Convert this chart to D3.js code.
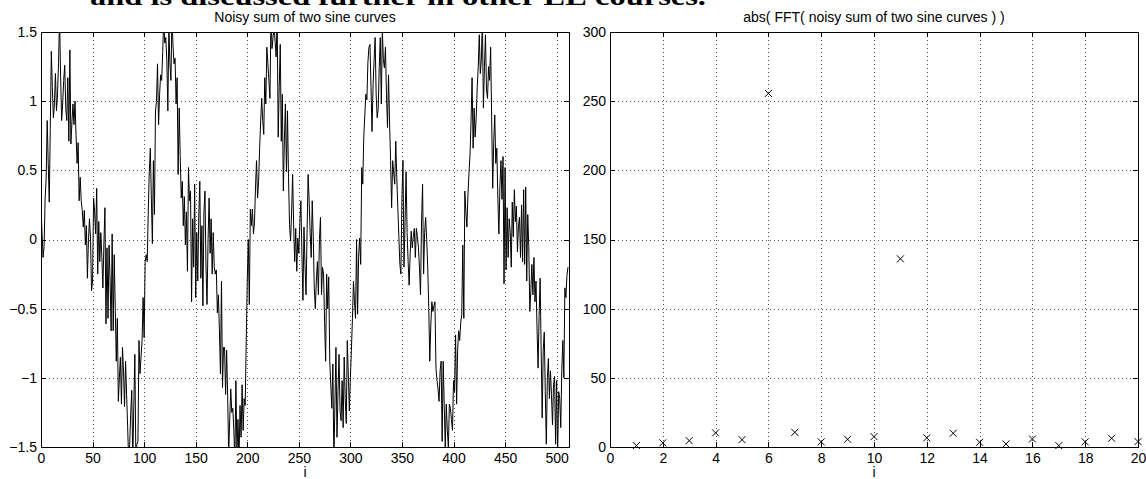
<!DOCTYPE html>
<html>
<head>
<meta charset="utf-8">
<script src="https://cdn.jsdelivr.net/npm/d3@7/dist/d3.min.js"></script>
<style>
  body { margin: 0; background: #fff; }
  svg { display: block; }
  .tick text { font-family: "Liberation Sans", Arial, sans-serif; font-size: 14px; fill: #000; }
  .lbl { font-family: "Liberation Sans", Arial, sans-serif; font-size: 14px; fill: #000; }
</style>
</head>
<body>
<svg id="chart" width="1146" height="479"></svg>
<script>
// noisy signal, one value per sample i = 0..511
const noisySignal = [
  0.22, 0.05, -0.13, -0.05, 0.30, 0.44, 0.86, 0.55, 0.27, 0.80,
  1.36, 1.10, 0.88, 0.98, 1.20, 0.93, 1.05, 1.27, 1.62, 1.18,
  0.86, 0.98, 1.15, 1.26, 0.95, 0.86, 1.17, 0.71, 1.37, 0.69,
  0.85, 0.98, 0.83, 1.00, 0.75, 0.55, 0.70, 0.28, 0.45, 0.28,
  0.21, 0.09, 0.21, -0.04, 0.10, -0.28, -0.01, 0.15, 0.01, -0.37,
  -0.30, 0.30, 0.20, 0.04, 0.37, -0.25, 0.13, -0.16, 0.05, -0.13,
  -0.35, -0.03, 0.23, -0.61, -0.06, -0.57, -0.04, -0.30, -0.66, 0.04,
  -0.66, -0.11, -0.50, -0.88, -0.57, -1.17, -1.00, -0.85, -1.19, -0.78,
  -0.95, -1.21, -0.88, -1.12, -1.35, -1.60, -1.48, -1.25, -1.09, -1.60,
  -1.20, -0.83, -1.60, -1.48, -1.46, -0.73, -0.97, -0.85, -0.73, -0.42,
  -0.71, -0.16,
  -0.11, -0.16, 0.20, 0.49, 0.66, 0.30, -0.03, 0.57, 0.18, 0.93,
  1.00, 1.27, 0.83, 1.05, 1.19, 1.15, 1.35, 1.60, 1.42, 1.46,
  1.30, 0.93, 1.53, 1.28, 1.15, 1.62, 1.40, 1.27, 1.31, 0.98,
  1.17, 0.47, 0.95, 0.60, 0.30, 0.42, 0.10, 0.31, -0.04, 0.20,
  -0.23, 0.52, 0.28, 0.35, -0.45, 0.15, -0.20, 0.40, -0.42, 0.05,
  -0.30, 0.17, 0.42, -0.28, 0.10, -0.48, 0.20, 0.35, -0.20, -0.47,
  0.00, 0.30, -0.10, 0.15, -0.25, 0.05, -0.20, -0.25, -0.22, -0.53,
  -0.40, -0.65, -0.97, -0.30, -1.07, -0.78, -0.78, -1.12, -0.80, -1.13,
  -1.55, -1.30, -1.08, -1.25, -1.22, -1.38, -1.60, -1.02, -1.55, -1.30,
  -1.60, -1.20, -1.43, -1.05, -1.38, -1.15, -1.20, -0.74, -0.30, 0.00,
  -0.47, 0.22, 0.10,
  0.22, 0.04, 0.12, 0.38, 0.57, 0.30, 0.42, 0.66, 0.85, 1.02,
  0.86, 0.76, 1.17, 0.98, 1.39, 1.27, 1.15, 1.02, 1.62, 1.38,
  1.46, 1.55, 1.43, 1.32, 1.60, 0.74, 1.10, 1.41, 0.71, 1.05,
  0.35, 0.72, 0.98, 0.49, 0.93, 0.45, 0.11, -0.01, 0.20, 0.47,
  0.10, -0.16, 0.08, -0.23, 0.01, -0.10, 0.12, 0.28, -0.10, -0.44,
  0.09, -0.18, -0.40, 0.05, 0.47, 0.28, 0.05, -0.13, 0.28, 0.02,
  -0.35, -0.50, -0.30, -0.16, -0.40, 0.00, 0.16, -0.40, -0.20, -0.25,
  -0.60, -0.88, -0.25, -0.50, -0.27, -0.88, -1.05, -1.22, -0.90, -1.60,
  -1.20, -0.78, -1.43, -1.10, -0.83, -1.24, -1.31, -1.02, -1.36, -0.85,
  -1.15, -1.33, -0.73, -0.98, -1.24, -1.00, -0.80, -0.57, -0.30, -0.45,
  -0.57, 0.00,
  -0.54, -0.12, 0.01, -0.18, 0.52, 0.40, 0.74, 0.90, 1.05, 1.01,
  1.28, 1.39, 1.41, 1.10, 0.78, 1.12, 1.30, 1.46, 1.05, 0.88,
  0.95, 1.25, 1.46, 0.98, 1.51, 1.30, 1.24, 1.39, 1.05, 0.81,
  1.19, 0.85, 0.57, 0.23, 0.57, 0.48, 0.40, 0.71, 0.45, 0.23,
  0.02, -0.18, -0.25, 0.30, 0.57, -0.20, 0.12, 0.49, 0.05, -0.16,
  -0.33, -0.10, 0.06, -0.06, 0.02, 0.08, -0.13, 0.08, 0.02, -0.06,
  -0.20, -0.40, 0.12, 0.40, -0.25, 0.05, 0.16, 0.00, -0.20, -0.49,
  -0.88, -0.62, -0.45, -0.52, -0.48, -0.45, -0.93, -1.02, -1.08, -1.17,
  -0.95, -0.88, -1.46, -0.88, -1.20, -1.50, -1.19, -1.38, -1.50, -1.19,
  -1.22, -1.30, -1.38, -1.02, -1.10, -0.69, -1.19, -0.80, -0.66, -0.73,
  -0.60, -0.54, -0.04,
  -0.57, 0.35, 0.20, 0.09, 0.32, 0.48, 0.61, 0.85, 1.17, 0.66,
  0.95, 0.74, 0.88, 1.10, 1.25, 1.48, 1.20, 1.30, 1.60, 0.95,
  1.25, 1.48, 1.08, 1.02, 1.25, 1.15, 1.39, 0.88, 0.37, 0.70,
  0.90, 0.55, 0.66, 0.30, 0.04, 0.38, 0.57, 0.29, 0.60, -0.32,
  0.52, -0.22, 0.23, -0.13, 0.15, 0.05, -0.20, 0.27, 0.02, 0.36,
  0.13, 0.24, -0.09, 0.10, 0.16, -0.13, 0.25, -0.16, 0.36, -0.18,
  0.38, -0.30, 0.18, -0.05, -0.52, -0.37, -0.18, -0.40, -0.13, -0.45,
  -0.30, -0.64, -0.93, -0.55, -0.28, -0.80, -1.29, -0.80, -0.67, -1.10,
  -1.48, -1.00, -0.86, -1.15, -0.95, -1.12, -1.34, -1.05, -0.99, -1.48,
  -1.02, -1.55, -1.10, -1.15, -1.36, -0.95, -0.73, -1.00, -0.35, -0.42,
  -0.26, -0.20
];

// first 20 bins of abs(fft)
const fftBin = [1, 2, 3, 4, 5, 6, 7, 8, 9, 10, 11, 12, 13, 14, 15, 16, 17, 18, 19, 20];
const fftMag = [1.0, 3.0, 4.6, 10.2, 5.3, 255.6, 10.6, 3.7, 5.6, 7.5,
                136, 6.6, 9.9, 3.4, 2.2, 5.8, 1.0, 3.7, 6.3, 3.9];

const sigXTicks = [0, 50, 100, 150, 200, 250, 300, 350, 400, 450, 500];
const sigYTicks = [-1.5, -1, -0.5, 0, 0.5, 1, 1.5];
const fftXTicks = [0, 2, 4, 6, 8, 10, 12, 14, 16, 18, 20];
const fftYTicks = [0, 50, 100, 150, 200, 250, 300];

const leftTitle = "Noisy sum of two sine curves";
const rightTitle = "abs( FFT( noisy sum of two sine curves ) )";
const headerText = "and is discussed further in other EE courses.";

const svg = d3.select("#chart");
const fmt = d => d < 0 ? "\u2212" + Math.abs(d) : String(d);

// clipped line of text above the figure (page text cut by the screenshot)
svg.append("text")
    .attr("x", 90).attr("y", 5)
    .attr("textLength", 616).attr("lengthAdjust", "spacingAndGlyphs")
    .style("font-family", "'Liberation Serif', 'Times New Roman', serif")
    .style("font-weight", "bold").style("font-size", "26px")
    .text(headerText);

function panel(box, xDom, yDom, xTicks, yTicks, title, id) {
    let x = d3.scaleLinear().domain(xDom).range([box.left, box.right]);
    let y = d3.scaleLinear().domain(yDom).range([box.bottom, box.top]);
    let g = svg.append("g");

    svg.append("clipPath").attr("id", id)
        .append("rect")
        .attr("x", box.left).attr("y", box.top)
        .attr("width", box.right - box.left).attr("height", box.bottom - box.top);

    //#region grid
    let grid = g.append("g")
        .attr("stroke", "#555").attr("stroke-width", 1)
        .attr("stroke-dasharray", "1,3").attr("shape-rendering", "crispEdges");
    grid.selectAll(".gx")
        .data(xTicks.filter(d => d > xDom[0] && d < xDom[1]))
        .join("line").attr("class", "gx")
        .attr("x1", d => Math.round(x(d)) + 0.5).attr("x2", d => Math.round(x(d)) + 0.5)
        .attr("y1", box.top).attr("y2", box.bottom);
    grid.selectAll(".gy")
        .data(yTicks.filter(d => d > yDom[0] && d < yDom[1]))
        .join("line").attr("class", "gy")
        .attr("y1", d => Math.round(y(d)) + 0.5).attr("y2", d => Math.round(y(d)) + 0.5)
        .attr("x1", box.left).attr("x2", box.right);
    //#endregion

    //#region axes, ticks pointing inwards on all four sides
    g.append("g").attr("transform", `translate(0,${box.bottom})`)
        .call(d3.axisBottom(x).tickValues(xTicks).tickSize(-5).tickPadding(6).tickFormat(fmt))
        .call(a => a.select(".domain").remove());
    g.append("g").attr("transform", `translate(0,${box.top})`)
        .call(d3.axisTop(x).tickValues(xTicks).tickSize(-5).tickFormat(""))
        .call(a => a.select(".domain").remove());
    g.append("g").attr("transform", `translate(${box.left},0)`)
        .call(d3.axisLeft(y).tickValues(yTicks).tickSize(-5).tickPadding(4).tickFormat(fmt))
        .call(a => a.select(".domain").remove());
    g.append("g").attr("transform", `translate(${box.right},0)`)
        .call(d3.axisRight(y).tickValues(yTicks).tickSize(-5).tickFormat(""))
        .call(a => a.select(".domain").remove());
    g.selectAll(".tick line").attr("stroke", "#000").attr("shape-rendering", "crispEdges");
    //#endregion

    g.append("rect")
        .attr("x", box.left + 0.5).attr("y", box.top + 0.5)
        .attr("width", box.right - box.left).attr("height", box.bottom - box.top)
        .attr("fill", "none").attr("stroke", "#000").attr("shape-rendering", "crispEdges");

    g.append("text").attr("class", "lbl")
        .attr("x", (box.left + box.right) / 2).attr("y", 22)
        .attr("text-anchor", "middle").text(title);
    g.append("text").attr("class", "lbl")
        .attr("x", (box.left + box.right) / 2).attr("y", 477)
        .attr("text-anchor", "middle").text("i");

    return { x, y, g };
}

// left: the noisy signal
let left = panel({ left: 41, right: 569, top: 32, bottom: 447 },
    [0, 512], [-1.5, 1.5], sigXTicks, sigYTicks, leftTitle, "clipL");
left.g.append("path")
    .datum(noisySignal)
    .attr("clip-path", "url(#clipL)")
    .attr("fill", "none").attr("stroke", "#000").attr("stroke-width", 1)
    .attr("d", d3.line().x((d, i) => left.x(i)).y(d => left.y(d)));

// right: FFT magnitudes as x markers
let right = panel({ left: 610, right: 1138, top: 32, bottom: 447 },
    [0, 20], [0, 300], fftXTicks, fftYTicks, rightTitle, "clipR");
right.g.selectAll(".mk")
    .data(fftBin)
    .join("path").attr("class", "mk")
    .attr("transform", (d, i) => `translate(${right.x(d)},${right.y(fftMag[i])})`)
    .attr("d", "M-3.5,-3.5L3.5,3.5M-3.5,3.5L3.5,-3.5")
    .attr("stroke", "#000").attr("stroke-width", 1).attr("fill", "none");
</script>
</body>
</html>
